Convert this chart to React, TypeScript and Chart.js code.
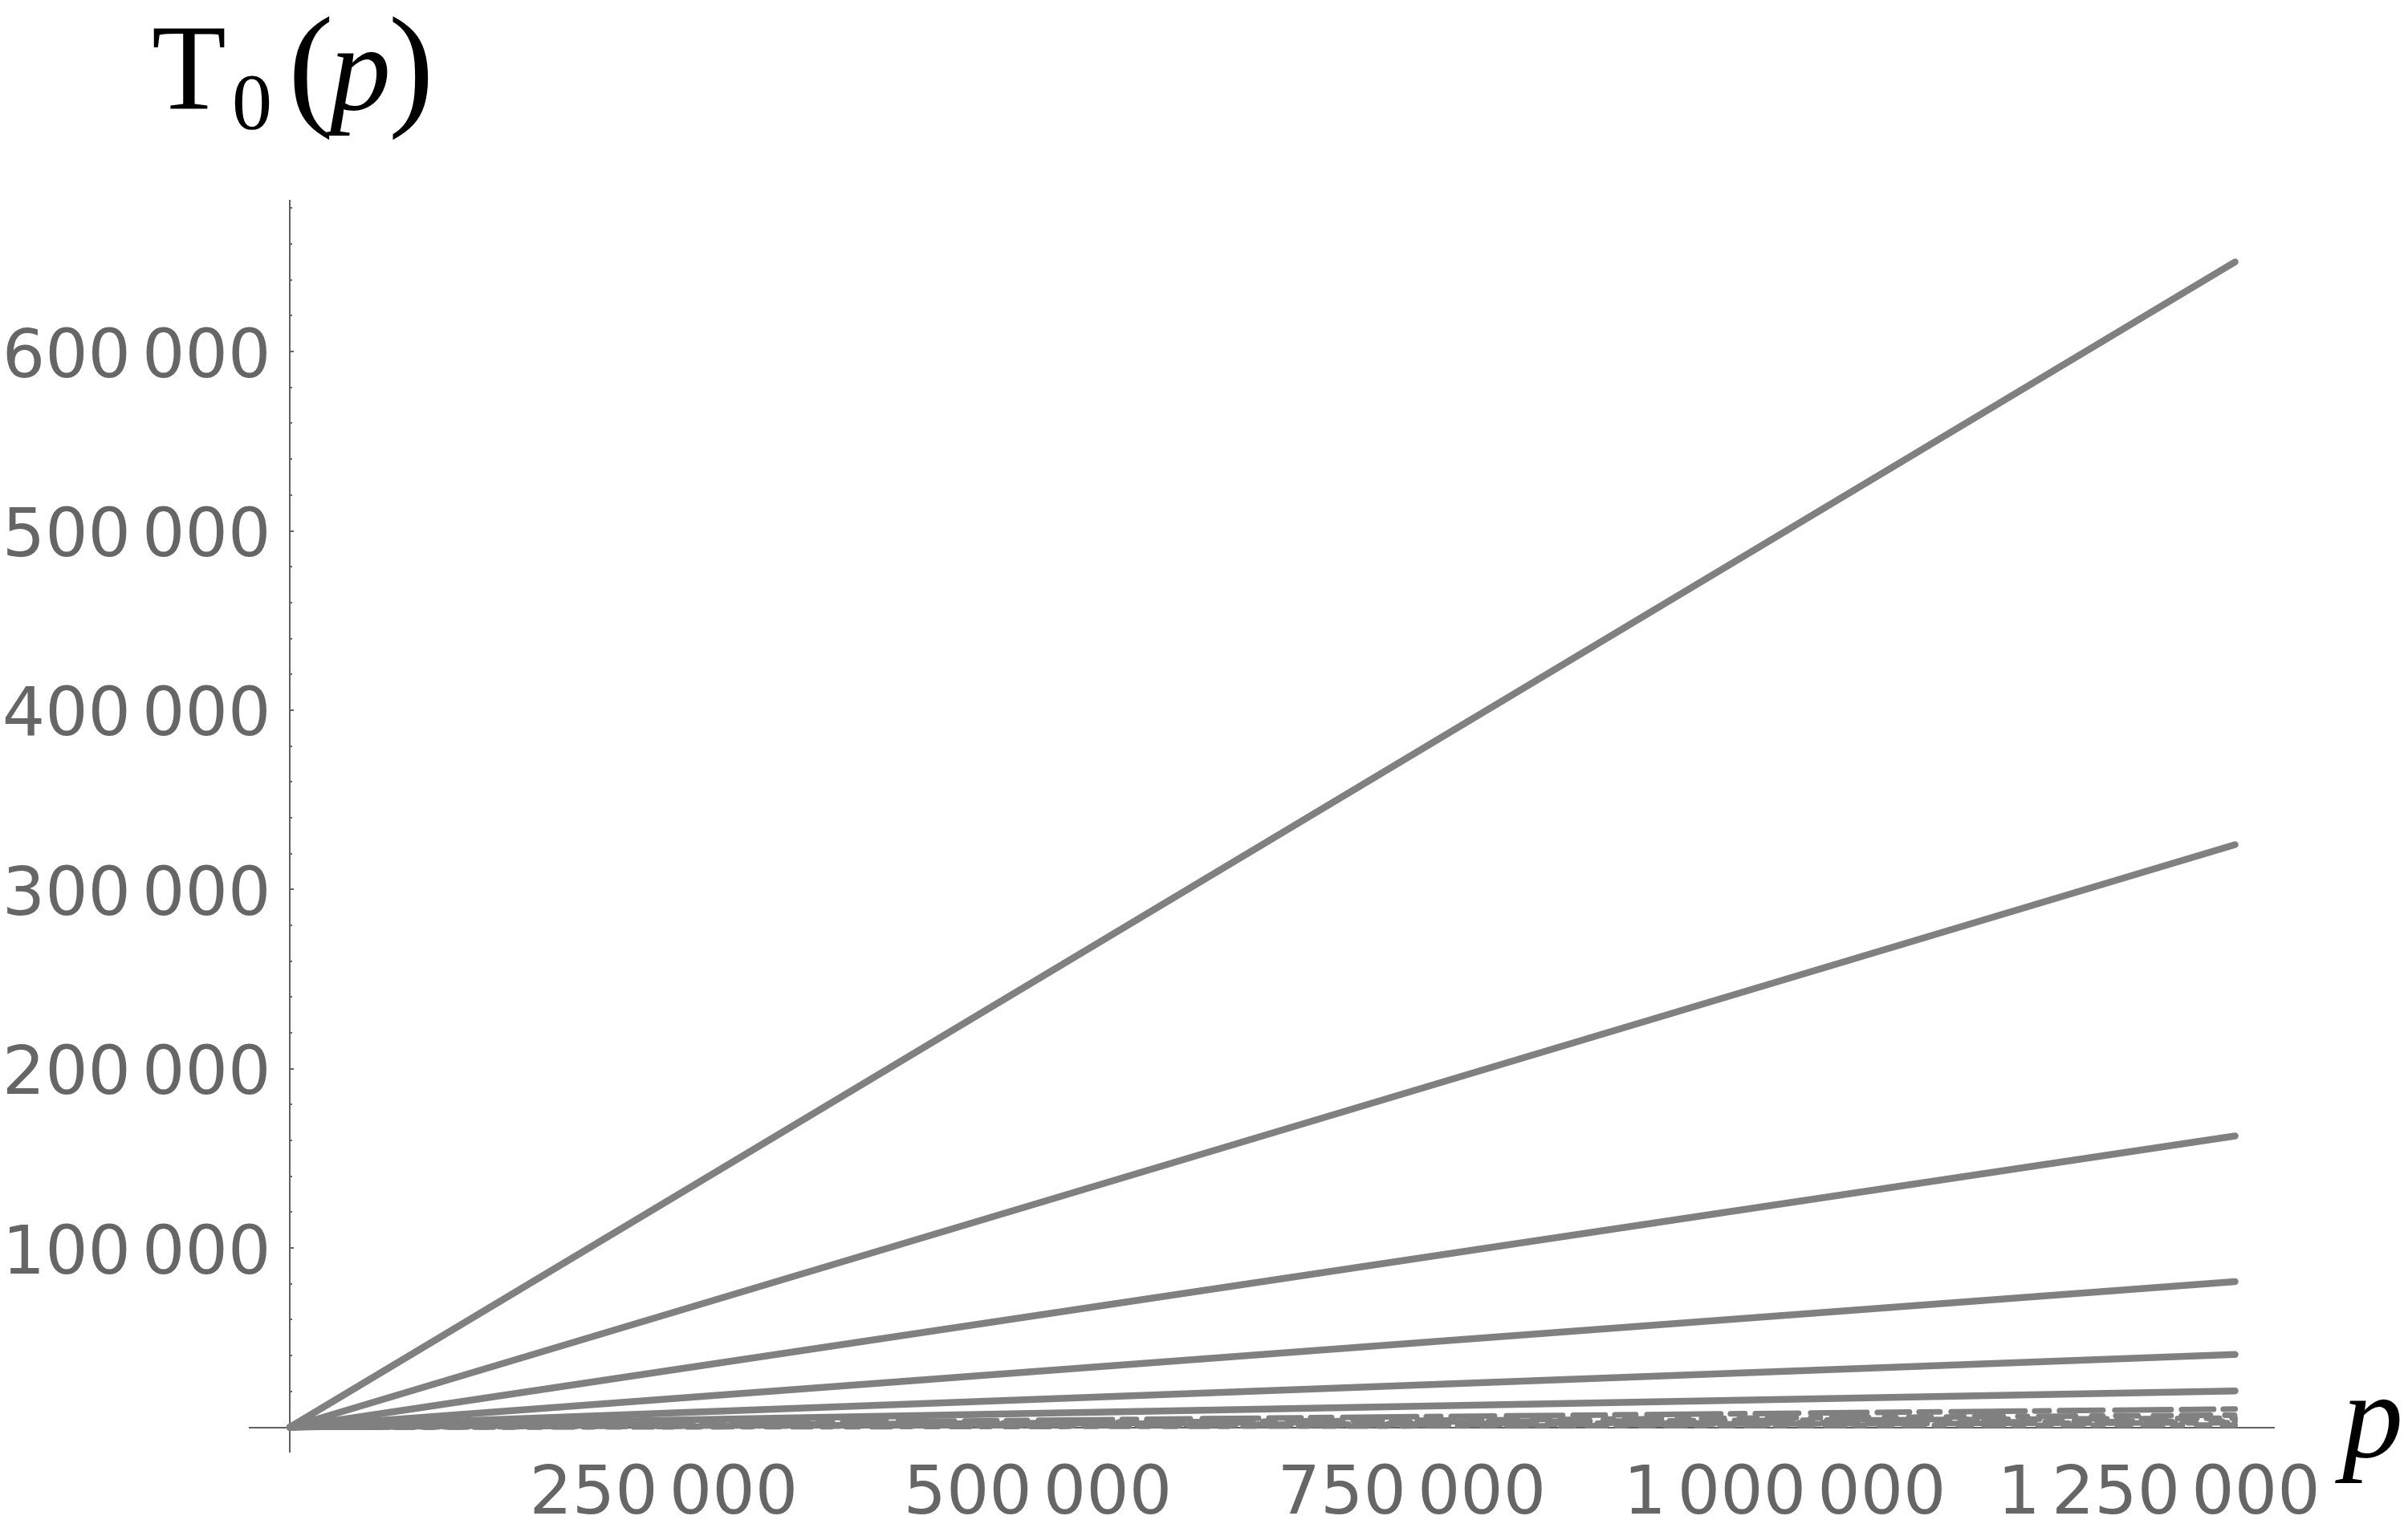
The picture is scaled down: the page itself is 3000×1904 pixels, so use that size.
import React, { useEffect, useRef } from 'react';
import { Chart, registerables } from 'chart.js';

Chart.register(...registerables);

// ---- data ----
const P_END = 1300000;
// dense solid rows (T0 = p/2, p/4, ... ) : value reached at p = P_END
const solidRowEnds = [650000, 325000, 162500, 81250, 40625, 20312];
// sparse dotted rows near the bottom : value reached at p = P_END
const sparseRowEnds = [10156, 6770, 5078, 3385, 2539, 1270];
const xTickValues = [250000, 500000, 750000, 1000000, 1250000];
const yTickValues = [100000, 200000, 300000, 400000, 500000, 600000];
const yMinorStep = 20000;
const yMinorMax = 680000;
const X_MIN = -26800;
const X_MAX = 1326000;
const Y_MIN = -13650;
const Y_MAX = 684200;

// ---- styles ----
const LINE_COLOR = '#808080';
const AXIS_COLOR = '#606060';
const LABEL_COLOR = '#666666';
const sparseDash: number[][] = [
  [70, 13, 40, 12, 26, 14, 92, 12, 18, 13, 54, 15],
  [22, 13, 36, 18, 12, 14, 46, 20, 14, 16, 28, 19],
  [24, 12, 16, 16, 40, 13, 12, 18, 30, 15],
  [14, 15, 22, 12, 10, 17, 32, 13, 16, 20],
  [20, 13, 12, 15, 28, 16, 10, 19],
  [16, 16, 24, 13, 12, 18],
];

const fmt = (v: number | string) =>
  String(v).replace(/\B(?=(\d{3})+(?!\d))/g, '\u2006');

const TICK_FONT = '84px "DejaVu Sans", sans-serif';

const decorPlugin = {
  id: 'decor',
  afterDraw(chart: any) {
    const ctx: CanvasRenderingContext2D = chart.ctx;
    const xs = chart.scales.x;
    const ys = chart.scales.y;
    const x0 = xs.getPixelForValue(0);
    const y0 = ys.getPixelForValue(0);
    ctx.save();
    // y ticks (inward, Mathematica style)
    ctx.strokeStyle = AXIS_COLOR;
    ctx.lineWidth = 2;
    for (let v = yMinorStep; v <= yMinorMax; v += yMinorStep) {
      const py = Math.round(ys.getPixelForValue(v));
      const major = yTickValues.includes(v);
      ctx.beginPath();
      ctx.moveTo(x0, py);
      ctx.lineTo(x0 + (major ? 5 : 3), py);
      ctx.stroke();
    }
    // tick labels
    ctx.fillStyle = LABEL_COLOR;
    ctx.font = TICK_FONT;
    ctx.textAlign = 'left';
    ctx.textBaseline = 'alphabetic';
    yTickValues.forEach((v) => {
      const t = fmt(v);
      const m = ctx.measureText(t);
      const py = ys.getPixelForValue(v);
      const right = x0 - 29;
      ctx.fillText(t, right - m.actualBoundingBoxRight, py + m.actualBoundingBoxAscent / 2);
    });
    xTickValues.forEach((v) => {
      const t = fmt(v);
      const m = ctx.measureText(t);
      const px = xs.getPixelForValue(v);
      const w = m.actualBoundingBoxLeft + m.actualBoundingBoxRight;
      const left = px - w / 2;
      ctx.fillText(t, left + m.actualBoundingBoxLeft, y0 + 44 + m.actualBoundingBoxAscent);
    });
    // title T0(p) and axis label p
    ctx.fillStyle = '#000';
    const glyph = (t: string, font: string, left: number, base: number) => {
      ctx.font = font;
      const m = ctx.measureText(t);
      ctx.fillText(t, left + m.actualBoundingBoxLeft, base);
    };
    const serif = '"Liberation Serif", "DejaVu Serif", serif';
    glyph('T', `152px ${serif}`, 191, 136);
    glyph('0', `100px ${serif}`, 292, 160);
    glyph('(', `170px ${serif}`, 366, 138);
    glyph('p', `italic 152px ${serif}`, 402, 136);
    glyph(')', `170px ${serif}`, 489, 138);
    glyph('p', `italic 152px ${serif}`, 2909, 1815);
    ctx.restore();
  },
};

export default function App() {
  const ref = useRef<HTMLCanvasElement | null>(null);
  useEffect(() => {
    document.body.style.margin = '0';
    if (!ref.current) return;
    const datasets: any[] = [];
    solidRowEnds.forEach((end) => {
      datasets.push({
        data: [
          { x: 0, y: 0 },
          { x: P_END, y: end },
        ],
        borderColor: LINE_COLOR,
        borderWidth: 8.5,
        borderCapStyle: 'round',
        pointRadius: 0,
        fill: false,
      });
    });
    sparseRowEnds.forEach((end, i) => {
      datasets.push({
        data: [
          { x: 0, y: 0 },
          { x: P_END, y: end },
        ],
        borderColor: LINE_COLOR,
        borderWidth: 7,
        borderCapStyle: 'round',
        borderDash: sparseDash[i],
        pointRadius: 0,
        fill: false,
      });
    });
    const chart = new Chart(ref.current, {
      type: 'line',
      data: { datasets },
      plugins: [decorPlugin],
      options: {
        animation: false,
        responsive: false,
        devicePixelRatio: 1,
        layout: { padding: { left: 311, top: 250, right: 167, bottom: 95 } },
        plugins: { legend: { display: false }, tooltip: { enabled: false }, title: { display: false } },
        elements: { line: { tension: 0 } },
        scales: {
          x: {
            type: 'linear',
            min: X_MIN,
            max: X_MAX,
            bounds: 'data',
            position: { y: 0 } as any,
            grid: { display: false },
            border: { display: true, color: AXIS_COLOR, width: 2 },
            ticks: { display: false },
            afterBuildTicks: (s: any) => {
              s.ticks = xTickValues.map((value) => ({ value }));
            },
          },
          y: {
            type: 'linear',
            min: Y_MIN,
            max: Y_MAX,
            bounds: 'data',
            position: { x: 0 } as any,
            grid: { display: false },
            border: { display: true, color: AXIS_COLOR, width: 2 },
            ticks: { display: false },
            afterBuildTicks: (s: any) => {
              s.ticks = yTickValues.map((value) => ({ value }));
            },
          },
        },
      } as any,
    });
    return () => chart.destroy();
  }, []);
  return <canvas ref={ref} width={3000} height={1904} style={{ display: 'block' }} />;
}
